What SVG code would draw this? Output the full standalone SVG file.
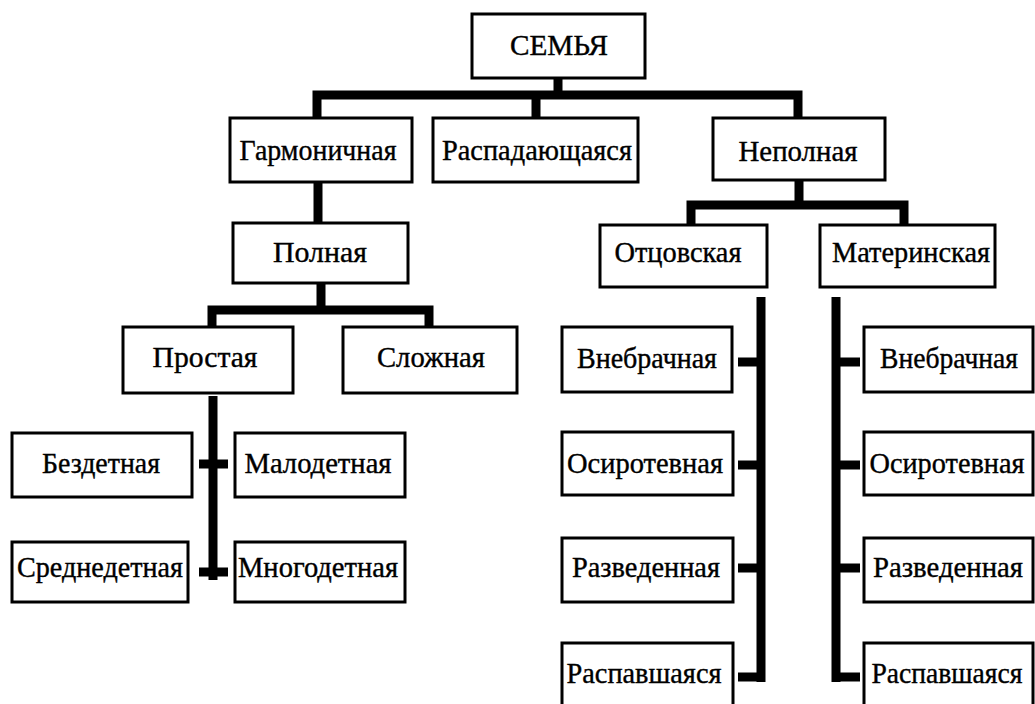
<svg xmlns="http://www.w3.org/2000/svg" width="1035" height="704" viewBox="0 0 1035 704">
<style>
.box{fill:#fff;stroke:#000;stroke-width:3}
.t{font-size:30px;fill:#000;stroke:#000;stroke-width:0.4;text-anchor:middle}
.c{fill:none;stroke:#000;stroke-width:9;stroke-linecap:butt;stroke-linejoin:miter}
</style>
<rect width="1035" height="704" fill="#fff"/>
<g id="connectors">
<path class="c" d="M558 78V95M317 118V95H798V118M536 95V118"/>
<path class="c" d="M318 182V223"/>
<path class="c" d="M321 283V310M212 327V310H429V327"/>
<path class="c" d="M213 396V580M199 464H228M199 572H228"/>
<path class="c" d="M799 180V205M691 225V205H904V225"/>
<path class="c" d="M761 297V682M738 362H761M738 465H761M738 568H761M738 677H765"/>
<path class="c" d="M836 297V682M836 362H860M836 465H860M836 568H860M832 677H860"/>
</g>
<g font-family="'Liberation Serif', 'Times New Roman', serif">
<g id="n-semya"><rect class="box" x="472" y="14" width="173" height="64"/><text class="t" x="559" y="55" textLength="98" lengthAdjust="spacingAndGlyphs">СЕМЬЯ</text></g>
<g id="n-garm"><rect class="box" x="230" y="118" width="182" height="64"/><text class="t" x="318" y="160" textLength="157" lengthAdjust="spacingAndGlyphs">Гармоничная</text></g>
<g id="n-raspad"><rect class="box" x="433" y="118" width="205" height="64"/><text class="t" x="537" y="160" textLength="190" lengthAdjust="spacingAndGlyphs">Распадающаяся</text></g>
<g id="n-nepoln"><rect class="box" x="713" y="118" width="172" height="62"/><text class="t" x="798" y="161" textLength="119" lengthAdjust="spacingAndGlyphs">Неполная</text></g>
<g id="n-poln"><rect class="box" x="233" y="223" width="175" height="60"/><text class="t" x="320" y="262" textLength="94" lengthAdjust="spacingAndGlyphs">Полная</text></g>
<g id="n-prost"><rect class="box" x="123" y="327" width="170" height="66"/><text class="t" x="205" y="367" textLength="105" lengthAdjust="spacingAndGlyphs">Простая</text></g>
<g id="n-slozh"><rect class="box" x="343" y="327" width="174" height="66"/><text class="t" x="431" y="367" textLength="108" lengthAdjust="spacingAndGlyphs">Сложная</text></g>
<g id="n-bezdet"><rect class="box" x="12" y="433" width="180" height="64"/><text class="t" x="101" y="473" textLength="118" lengthAdjust="spacingAndGlyphs">Бездетная</text></g>
<g id="n-malodet"><rect class="box" x="235" y="433" width="170" height="64"/><text class="t" x="318" y="473" textLength="147" lengthAdjust="spacingAndGlyphs">Малодетная</text></g>
<g id="n-sredn"><rect class="box" x="12" y="542" width="176" height="60"/><text class="t" x="100" y="577" textLength="166" lengthAdjust="spacingAndGlyphs">Среднедетная</text></g>
<g id="n-mnogo"><rect class="box" x="235" y="542" width="170" height="60"/><text class="t" x="318" y="577" textLength="160" lengthAdjust="spacingAndGlyphs">Многодетная</text></g>
<g id="n-otc"><rect class="box" x="600" y="225" width="167" height="62"/><text class="t" x="678" y="262" textLength="127" lengthAdjust="spacingAndGlyphs">Отцовская</text></g>
<g id="n-mat"><rect class="box" x="820" y="225" width="175" height="62"/><text class="t" x="911" y="262" textLength="158" lengthAdjust="spacingAndGlyphs">Материнская</text></g>
<g id="n-vneb-o"><rect class="box" x="562" y="327" width="170" height="65"/><text class="t" x="647" y="368" textLength="140" lengthAdjust="spacingAndGlyphs">Внебрачная</text></g>
<g id="n-osir-o"><rect class="box" x="562" y="432" width="171" height="63"/><text class="t" x="645" y="473" textLength="156" lengthAdjust="spacingAndGlyphs">Осиротевная</text></g>
<g id="n-razv-o"><rect class="box" x="562" y="538" width="171" height="64"/><text class="t" x="646" y="577" textLength="148" lengthAdjust="spacingAndGlyphs">Разведенная</text></g>
<g id="n-rasp-o"><rect class="box" x="562" y="643" width="171" height="70"/><text class="t" x="644" y="683" textLength="155" lengthAdjust="spacingAndGlyphs">Распавшаяся</text></g>
<g id="n-vneb-m"><rect class="box" x="864" y="327" width="169" height="65"/><text class="t" x="949" y="368" textLength="138" lengthAdjust="spacingAndGlyphs">Внебрачная</text></g>
<g id="n-osir-m"><rect class="box" x="864" y="432" width="169" height="63"/><text class="t" x="947" y="473" textLength="155" lengthAdjust="spacingAndGlyphs">Осиротевная</text></g>
<g id="n-razv-m"><rect class="box" x="864" y="538" width="169" height="64"/><text class="t" x="948" y="577" textLength="150" lengthAdjust="spacingAndGlyphs">Разведенная</text></g>
<g id="n-rasp-m"><rect class="box" x="864" y="643" width="169" height="70"/><text class="t" x="947" y="683" textLength="151" lengthAdjust="spacingAndGlyphs">Распавшаяся</text></g>
</g>
</svg>
